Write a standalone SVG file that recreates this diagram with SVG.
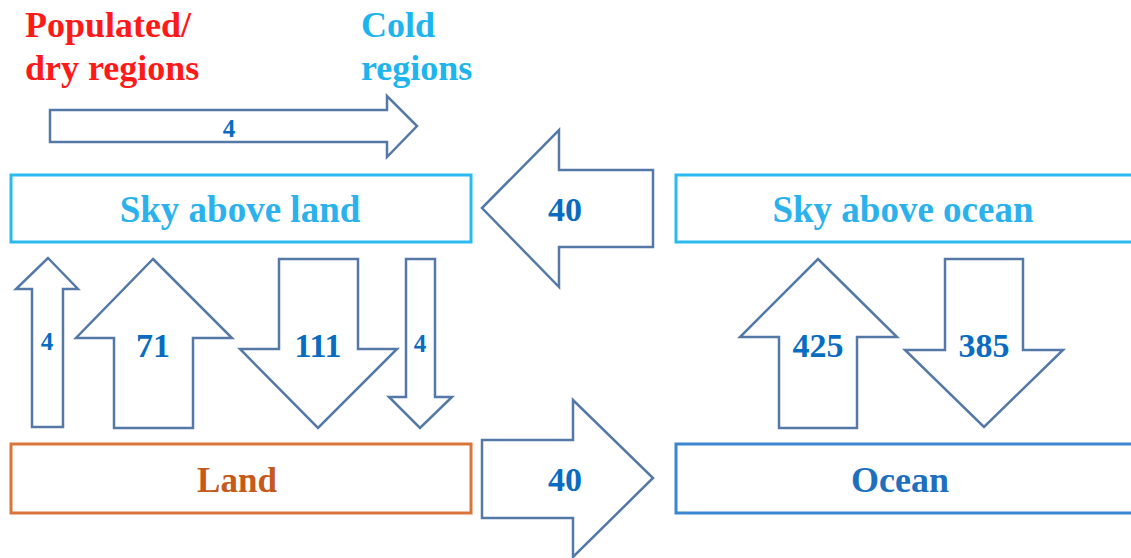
<svg xmlns="http://www.w3.org/2000/svg" width="1131" height="558" viewBox="0 0 1131 558">
<style>
text{font-family:"Liberation Serif","Times New Roman",serif;font-weight:bold;text-anchor:middle}
.arrow{fill:#fff;stroke:#5479a6;stroke-width:2.5;stroke-linejoin:miter}
.num{fill:#0a6cc0;font-size:34px}
.sm{fill:#0a6cc0;font-size:25px}
.box{fill:#fff;stroke-width:3}
</style>
<rect width="1131" height="558" fill="#fff"/>
<g id="label-populated">
<text x="25" y="37" style="text-anchor:start;font-size:36px" fill="#ff1a1a">Populated/</text>
<text x="25" y="80" style="text-anchor:start;font-size:36px" fill="#ff1a1a">dry regions</text>
</g>
<g id="label-cold">
<text x="361" y="37" style="text-anchor:start;font-size:36px" fill="#1eb4ee">Cold</text>
<text x="361" y="80" style="text-anchor:start;font-size:36px" fill="#1eb4ee">regions</text>
</g>
<g id="sky-land">
<rect class="box" x="11" y="175" width="460" height="67" stroke="#2bbaf0"/>
<text x="240" y="222" font-size="37" fill="#2bb2ec">Sky above land</text>
</g>
<g id="sky-ocean">
<rect class="box" x="676" y="175" width="470" height="67" stroke="#2bbaf0"/>
<text x="903" y="222" font-size="37" fill="#2bb2ec">Sky above ocean</text>
</g>
<g id="land">
<rect class="box" x="11" y="444" width="460" height="69" stroke="#d9753a"/>
<text x="237" y="492" font-size="35" fill="#c55a1a">Land</text>
</g>
<g id="ocean">
<rect class="box" x="676" y="444" width="470" height="69" stroke="#3a86d0"/>
<text x="900" y="492" font-size="36" fill="#1f6fbf">Ocean</text>
</g>
<g id="connectors">
<g id="flow-top-4">
<polygon class="arrow" points="50,110 387,110 387,96 417,126 387,157 387,142 50,142"/>
<text class="sm" x="229" y="137">4</text>
</g>
<g id="flow-left-40">
<polygon class="arrow" points="482,208 559,130 559,170 653,170 653,247 559,247 559,287"/>
<text class="num" x="565" y="221">40</text>
</g>
<g id="flow-right-40">
<polygon class="arrow" points="482,440 573,440 573,400 653,478 573,557 573,518 482,518"/>
<text class="num" x="565" y="491">40</text>
</g>
<g id="flow-up-4">
<polygon class="arrow" points="48,258 78,289 63,289 63,427 32,427 32,289 16,289"/>
<text class="sm" x="47" y="350">4</text>
</g>
<g id="flow-up-71">
<polygon class="arrow" points="153,259 232,338 193,338 193,428 114,428 114,338 76,338"/>
<text class="num" x="153" y="357">71</text>
</g>
<g id="flow-down-111">
<polygon class="arrow" points="279,259 358,259 358,349 397,349 318,428 240,349 279,349"/>
<text class="num" x="318" y="357">111</text>
</g>
<g id="flow-down-4">
<polygon class="arrow" points="406,259 435,259 435,397 452,397 420,428 389,397 406,397"/>
<text class="sm" x="420" y="352">4</text>
</g>
<g id="flow-up-425">
<polygon class="arrow" points="818,259 897,337 857,337 857,428 779,428 779,337 740,337"/>
<text class="num" x="818" y="357">425</text>
</g>
<g id="flow-down-385">
<polygon class="arrow" points="945,259 1023,259 1023,350 1063,350 984,427 905,350 945,350"/>
<text class="num" x="984" y="357">385</text>
</g>
</g>
</svg>
